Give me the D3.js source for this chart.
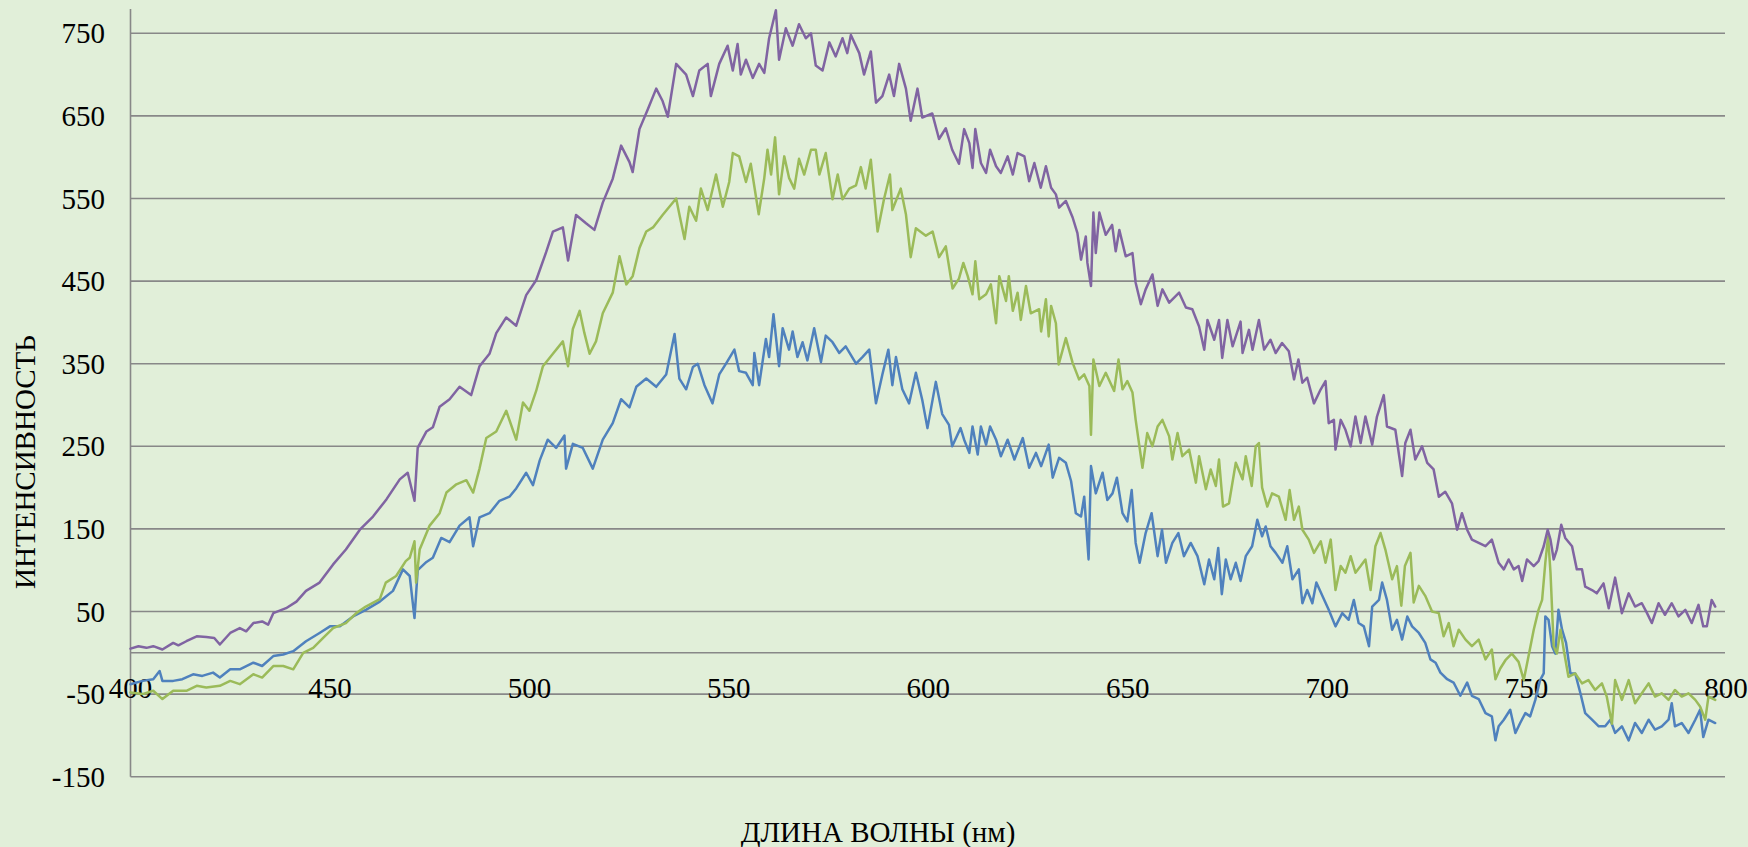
<!DOCTYPE html>
<html><head><meta charset="utf-8">
<script src="https://cdn.jsdelivr.net/npm/d3@7"></script>
<style>html,body{margin:0;padding:0;background:#e1efd9;}svg{display:block;}</style>
</head><body>
<script>
// ---- data ----
const xTicks = [400,450,500,550,600,650,700,750,800];
const yTicks = [-150,-50,50,150,250,350,450,550,650,750];
const xTitle = "ДЛИНА ВОЛНЫ (нм)";
const yTitle = "ИНТЕНСИВНОСТЬ";

const purpleX = [400,402,404,405.7,408,410.7,412,414,416.6,419,421,422.4,425,427.4,429,430.8,433,434.5,435.8,439,441.6,444,447.4,450.8,454,457.5,460.8,464.2,467.5,469.5,471.2,472,
474.2,475.8,477.5,480,482.5,485.4,487.5,490,491.7,494.2,496.7,499.2,501.7,504.2,505.9,508.4,509.7,511.7,514.2,516.3,518.4,520.9,523,525.1,525.9,527.6,529.7,531.8,533.4,534.7,536.8,
539.3,541,542.6,544.7,545.5,547.6,549.7,551,552.2,553,554.3,556,557.6,558.9,560.1,561.8,562.6,564.3,566,567.6,569.3,570.6,571.8,573.5,575.2,576.8,578.5,579.7,580.6,582.7,583.9,585.6,586.9,588.5,590.2,591.4,592.7,594.4,595.6,597.3,598.5,601,602.7,604.4,606,607.7,
609,610.3,611.1,611.8,613.2,614.5,615.5,617,618.2,619.9,621.2,622.4,624.1,625.3,626.6,628.2,629.5,630.8,632,632.8,634.5,636.2,637.4,638.3,639.5,639.9,640.8,641.4,642,642.9,644.5,646.1,647,647.9,649.5,651.2,652,653.3,654.5,656.2,657.5,658.7,660.4,662.9,664.6,666.2,667.9,669.2,670,671.7,672.9,673.7,675,676.3,678.3,678.8,680.4,681.3,682.9,
684.2,685.8,687.1,688.7,690.4,691.7,692.8,693.8,695,696.7,698.4,699.6,700.4,701.7,702.1,703.4,704.6,705.9,707.1,708.4,709.6,711.3,712.5,714.2,715,717.1,718.8,719.6,720.9,722.1,723.8,725.1,726.7,728,729.6,731.3,732.6,733.8,735.1,736.3,738,
739.7,741.3,743,744.3,745.5,746.8,748,748.9,750.1,751.8,753,754.3,755.3,756,756.8,757.6,758.7,759.7,761.4,762.6,763.9,764.7,766.4,767.6,769.3,770.6,772.2,773.9,775.6,777.2,778.9,780.2,781.4,783.1,784.7,786.4,788.1,789.8,791.4,793.1,794.3,795.2,796.4,797.3];
const purpleY = [5,8,6,8,4,12,9,14,20,19,18,10,24,30,26,36,38,34,48,54,62,75,85,107,125,149,165,186,210,218,184,248,
268,273,298,307,322,312,347,362,387,406,396,433,451,485,510,515,475,530,520,512,545,574,614,594,582,634,658,683,668,649,713,
700,674,705,713,674,713,735,705,737,700,718,696,713,702,744,778,718,756,735,761,744,750,711,705,739,722,744,726,748,726,700,728,666,674,700,674,713,683,644,683,648,653,622,635,609,592,
634,617,587,634,593,581,609,589,581,601,579,605,601,571,593,563,589,563,555,539,547,527,508,476,504,472,444,533,484,533,506,518,486,512,480,484,448,422,440,458,420,440,424,436,418,416,395,367,403,379,403,357,403,371,401,363,391,367,403,
367,379,363,375,365,331,355,327,333,302,319,329,278,282,246,282,270,250,286,254,286,252,286,312,274,270,214,254,270,234,250,230,222,189,195,181,149,169,149,137,133,
129,137,109,101,113,101,105,87,113,105,111,129,149,137,113,125,155,139,129,101,101,80,76,72,84,54,91,48,72,56,60,48,36,60,46,60,44,52,36,58,32,32,64,56];

const greenX = [400,403,405.7,408,410.7,414,416.6,419,422.4,425,427.4,430.8,433,435.8,438.3,440.8,443.3,445.8,448.3,450.8,454,456.6,459,462.5,464,466.6,469,470,471.2,471.6,472.5,
475,477.5,479.2,481.7,484.2,485.9,487.5,489.2,491.7,494.2,496.7,498.4,500,501.7,503.4,505.9,508.4,509.7,510.9,512.6,513.8,515.1,516.7,518.4,520.9,522.6,524.3,525.9,527.6,529.3,531,533.4,535.1,536.8,
537.6,538.9,540.1,541.8,543,544.7,546.8,548.5,550.1,551,552.6,554.3,555.5,557.5,558.9,559.7,560.6,561.6,562.6,563.9,565.1,566.4,567.6,568.9,570.6,571.8,572.7,574.3,576,577.3,578.5,580.2,581.9,583.1,584.3,585.6,587.3,588.9,590.4,591,593.1,594.4,595.6,596.9,599.4,601.1,602.7,604.4,606.1,607.7,
608.8,609.9,611.1,611.8,612.8,614.5,615.7,617,617.8,619.5,620.2,621.2,622.4,623.2,624.5,625.7,627.8,628.3,629.5,630.2,630.8,632,632.7,634.5,636.2,637.8,639.1,640.4,640.8,641.4,642.9,644.5,646.6,647.7,648.7,649.9,651.2,652,653.7,654.9,656.2,657.5,658.7,660.4,661.2,662.5,663.7,665.4,667.1,667.9,669.6,670.8,672.1,672.9,673.9,675.4,677.1,678.8,679.6,681.1,682.1,682.9,
683.7,685,686.2,687.9,689.6,690.6,691.7,692.9,693.8,695.4,696.7,698.4,699.6,700.9,702.1,703.4,704.6,705.9,707.1,708.4,709.6,710.9,712.1,713.4,714.6,716.3,717.5,718.6,719.5,720.9,721.7,723,724.6,726.3,728,729.2,730.5,731.7,733,734.7,736.3,738,739.7,741.3,742.2,
743.4,744.7,746.3,748,749.3,750.5,751.8,753,753.9,754.7,755.4,756,756.8,757.6,758.5,759.3,760.5,762.2,763.9,765.5,767.2,768.9,770.1,771.4,772.2,773.9,775.6,777.2,778.9,780.6,782.2,783.9,785.6,787.2,788.9,790.6,792.3,793.5,794.8,795.6,797.3];
const greenY = [-48,-50,-46,-56,-46,-46,-40,-42,-40,-34,-38,-26,-30,-16,-16,-20,0,6,18,30,36,48,56,65,85,93,111,115,135,85,125,
154,169,194,204,209,194,223,260,268,293,258,303,293,317,347,362,377,347,392,414,387,362,377,411,436,480,446,456,490,510,515,530,540,550,
531,501,540,523,562,536,579,540,570,605,601,570,592,531,575,609,579,624,555,601,575,562,598,579,609,609,579,605,549,579,549,562,566,588,562,597,510,549,579,536,562,531,479,514,505,510,479,492,441,453,
472,456,434,474,428,434,446,399,456,426,456,414,436,403,444,411,416,389,428,383,420,399,349,381,351,331,337,323,264,355,323,339,317,355,319,329,315,282,224,266,250,274,282,262,234,266,238,246,206,238,198,222,202,234,177,181,230,210,238,202,250,254,
200,177,193,189,161,197,161,177,149,137,121,135,109,137,76,105,97,117,97,105,113,76,129,145,125,89,105,57,105,121,61,81,69,50,48,20,36,8,28,16,8,16,-8,4,-32,
-19,-9,-1,-11,-33,-4,28,52,64,109,141,97,8,-1,28,4,-29,-25,-37,-33,-45,-37,-53,-86,-33,-57,-33,-61,-49,-37,-53,-49,-57,-45,-53,-49,-57,-65,-81,-53,-57];

const blueX = [400,403,405.7,407.3,408,410.7,413,415.7,418,420.7,422.4,425,427.4,430.8,433,435.8,438.3,440.8,444,447.4,450,452.5,455.8,459,462.5,465.8,468.3,470,471.2,472,
474.2,475.8,477.9,480,482.5,485,485.9,487.5,490,492.5,495,496.7,499.2,500.9,502.6,504.6,506.7,508.8,509.2,510.9,513.4,515.9,518.4,520.9,523,525.1,526.8,529.3,531.8,534.3,536.4,537.6,
539.3,541,542.2,543.9,545.9,547.6,549.3,551.4,552.6,554.3,556,556.4,557.6,559.3,560.1,561.2,562.6,563.5,565.1,566,567.2,568.5,569.7,571.4,573.1,574.3,576,577.7,579.3,581.9,583.5,585.2,586.9,588.5,590,591,591.9,593.5,595.2,596.9,598.5,599.8,601.9,603.5,605.2,606,608.1,
609,610.3,611.1,612.4,613.2,614.5,615.5,617,618.2,619.9,621.6,623.7,625.3,627,628.3,630.2,631.2,632.8,634.5,635.8,637,638.3,639.1,640.2,640.8,642,643.7,644.9,646.2,647.3,648.7,649.9,651,652,653,654.5,656,657.5,658.6,659.6,661.2,662.7,664.1,665.8,667.5,669.2,670.4,671.7,672.7,673.6,674.6,675.8,677.1,678.3,679.6,
681.2,682.5,683.7,684.6,685.8,687.1,688.8,690,691.3,692.9,693.8,695,696.3,697.3,698.8,700.4,702.1,703.8,705.4,706.7,707.9,709.2,710.5,711.3,713,713.8,715,716.3,717.5,718.8,720.1,721.3,723,724.6,725.9,727.2,728.4,730.1,731.7,733.4,735.1,736.3,738,
739.7,741.3,742.2,743,744.3,745.9,747.2,748.4,749.7,750.9,752.2,753.4,754.3,754.7,755.5,756.4,757.2,758,758.9,759.9,761,762.2,763.5,764.7,766.4,768.1,769.7,771,772.2,773.9,775.6,777.2,778.9,780.6,782.2,783.9,785.6,786.4,787.2,788.9,790.6,792.3,793.5,794.3,795.6,797.3];
const blueY = [-38,-34,-32,-22,-34,-34,-32,-26,-28,-24,-30,-20,-20,-12,-16,-4,-2,2,14,24,32,32,44,52,62,75,101,93,42,100,
110,115,139,134,154,164,129,164,169,184,189,199,218,203,233,258,248,263,223,253,248,223,258,278,307,297,322,332,322,337,386,332,
319,346,350,324,302,337,350,367,341,339,324,363,324,380,358,410,347,393,367,389,358,376,354,393,352,384,376,363,371,350,358,367,302,337,367,324,358,319,302,339,306,272,328,289,276,250,272,
258,242,274,240,274,252,274,258,238,258,234,260,224,242,226,252,212,236,230,208,169,165,189,113,226,193,218,185,193,212,169,159,197,133,109,145,169,117,149,109,133,145,117,133,117,83,113,89,127,71,113,89,109,87,117,
129,161,141,153,129,121,109,129,89,101,60,76,60,85,69,52,32,48,40,64,36,32,8,56,64,85,64,28,40,16,44,32,24,12,-8,-12,-24,-32,-36,-52,-36,-52,-56,
-73,-77,-106,-89,-81,-69,-97,-85,-73,-77,-57,-33,-25,44,40,8,-1,52,28,12,-25,-25,-49,-73,-81,-89,-89,-81,-97,-89,-106,-85,-97,-81,-93,-89,-81,-61,-89,-85,-97,-81,-69,-102,-81,-85];

const seriesList = [
  {name:"blue",   xs: blueX,   ys: blueY,   color:"#4f81bd"},
  {name:"green",  xs: greenX,  ys: greenY,  color:"#9bbb59"},
  {name:"purple", xs: purpleX, ys: purpleY, color:"#8064a2"}
];

// ---- drawing ----
const W = 1748, H = 847;
const svg = d3.select("body").append("svg").attr("width", W).attr("height", H);
svg.append("rect").attr("width", W).attr("height", H).attr("fill", "#e1efd9");

const x = d3.scaleLinear().domain([400, 800]).range([130.5, 1726]);
const y = d3.scaleLinear().domain([-150, 750]).range([776.7, 33.3]);
const font = "'Liberation Serif','Times New Roman',serif";
const gridColor = "#888888";

// horizontal gridlines
svg.append("g").selectAll("line").data(yTicks.concat([0])).join("line")
  .attr("x1", x(400)).attr("x2", 1725)
  .attr("y1", d => y(d)).attr("y2", d => y(d))
  .attr("stroke", gridColor).attr("stroke-width", 1.6);

// vertical axis line
svg.append("line").attr("x1", x(400)).attr("x2", x(400)).attr("y1", 9).attr("y2", y(-150))
  .attr("stroke", gridColor).attr("stroke-width", 1.6);

// y tick labels
svg.append("g").selectAll("text").data(yTicks).join("text")
  .attr("x", 105).attr("y", d => y(d)).attr("dy", "0.35em")
  .attr("text-anchor", "end").attr("font-family", font).attr("font-size", 29).attr("fill", "#000")
  .text(d => d);

// x tick labels (x axis crosses at 0)
svg.append("g").selectAll("text").data(xTicks).join("text")
  .attr("x", d => x(d)).attr("y", 698)
  .attr("text-anchor", "middle").attr("font-family", font).attr("font-size", 29).attr("fill", "#000")
  .text(d => d);

// series
const line = d3.line().x(d => x(d[0])).y(d => y(d[1]));
seriesList.forEach(s => {
  const pts = s.xs.map((v, i) => [v, s.ys[i]]);
  svg.append("path").datum(pts).attr("d", line)
    .attr("fill", "none").attr("stroke", s.color).attr("stroke-width", 2.5)
    .attr("stroke-linejoin", "round").attr("stroke-linecap", "round");
});

// axis titles
svg.append("text").attr("x", 878).attr("y", 842).attr("text-anchor", "middle")
  .attr("font-family", font).attr("font-size", 29).attr("fill", "#000").text(xTitle);
svg.append("text").attr("transform", "translate(35,462) rotate(-90)").attr("text-anchor", "middle")
  .attr("font-family", font).attr("font-size", 29).attr("fill", "#000").text(yTitle);
</script>
</body></html>
